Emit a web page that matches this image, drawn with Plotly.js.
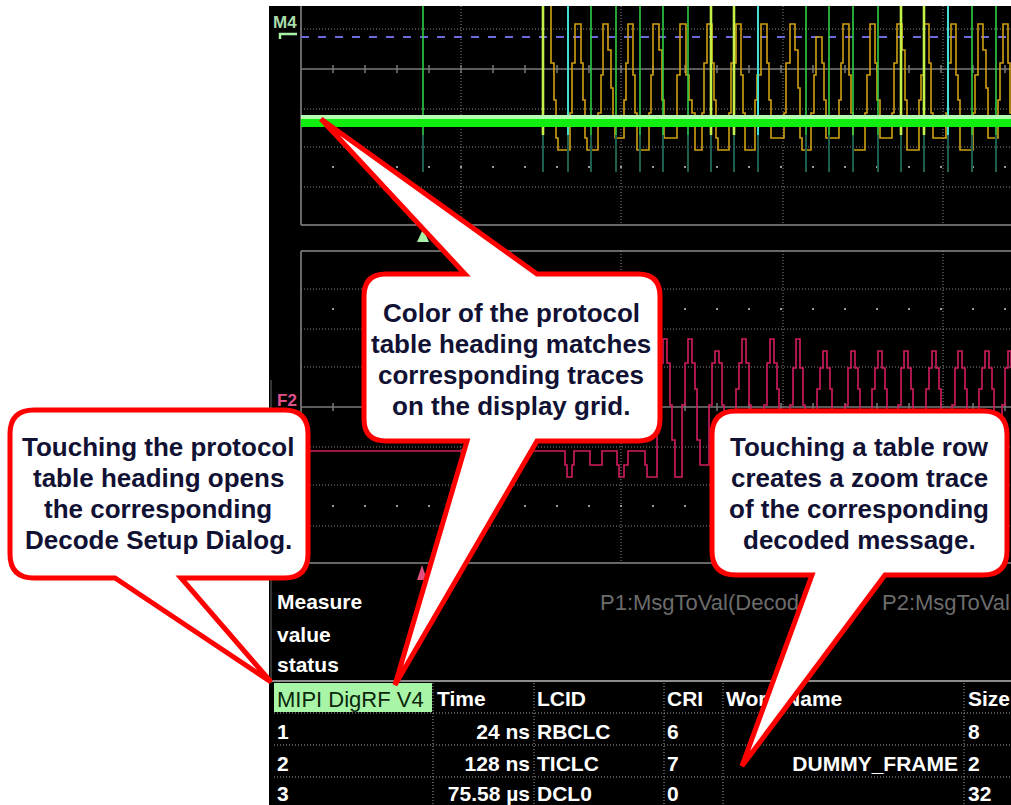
<!DOCTYPE html>
<html>
<head>
<meta charset="utf-8">
<script src="https://cdn.plot.ly/plotly-3.0.1.min.js"></script>
<style>
html,body{margin:0;padding:0;background:#ffffff;}
#chart{width:1011px;height:805px;}
</style>
</head>
<body>
<div id="chart"></div>
<script>
// ================= DATA =================
// Upper grid: time in ns (grid-relative), level in arbitrary units
const goldT = [246,250,253,255,257, 269,271,274,280,282,284,286, 297,300,302,307,310,312,314, 323,325,327,332,334,336, 348,350,352,358,361,363, 376,379,385,388,391,394, 401,403,406,411,413,415,417, 428,430,435,440,442,444, 454,456,460,466,468,470, 483,485,489,494,497,499,501, 510,513,515,521,523,525, 538,540,542,548,550,552, 564,566,569,574,576,579, 591,593,596,601,604,606, 618,620,623,628,630,632, 645,647,650,655,657,659, 672,674,677,682,685,687, 697,699,702,707,709, 712];
const goldV = [225,162,125,87,75, 112,162,201,162,125,87,75, 112,150,201,175,137,100,87, 125,162,201,150,112,75, 112,150,201,175,125,87, 150,201,150,125,112,75, 112,162,201,162,125,87,75, 112,162,201,150,112,75, 125,150,201,162,125,87, 112,162,201,175,137,87,75, 112,150,188,162,125,87, 125,162,201,150,112,75, 112,150,201,162,125,87, 112,162,201,175,125,75, 125,150,201,162,112,87, 112,162,201,150,125,75, 112,150,201,175,137,87, 125,162,201,162,112, 112];

const greenPulseT  = [122,290,315,339,362,387,505,528,552,577,671,695];
const brightPulseT = [242,410,433,600,623];
const cyanPulseT   = [267,457,647];
const pulseTopV = 225, pulseMidV = 90, pulseBotV = 53;

const bandT = [0, 710];
const bandV = [104, 104];
const bandHiV = [108, 108];

// Lower grid (F2 decode trace)
const pinkT = [9, 264,266,271,273, 289,301, 316,318,323,327, 344,346, 356,359,362,366,369,371,374, 381,384,387,391,394,396,399, 408,411,414,418,421,423,426, 435,438,441,445,448,450,453, 463,466,469,473,476,478,481, 489,492,495,499,502,504,507, 516,519,522,526,529,531,534, 544,547,550,554,557,559,562, 571,574,577,581,584,586,589, 597,600,603,607,610,612,615, 625,628,631,635,638,640,643, 651,654,657,661,664,666,669, 678,681,684,688,691,693,696, 701,704,707,710];
const pinkV = [112, 98,86,98,112, 98,112, 98,86,98,112, 98,86, 158,200,224,200,158,123,86, 158,200,224,200,174,123,98, 158,200,212,200,158,123,86, 174,200,224,200,158,123,98, 158,200,224,200,174,123,86, 158,195,224,195,158,123,98, 174,195,212,195,174,123,86, 158,195,212,195,174,123,98, 174,195,212,195,174,123,86, 158,195,212,195,174,123,98, 174,195,212,195,174,123,86, 158,195,212,195,174,123,98, 174,195,212,195,174,123,86, 158,195,212,195];

// Channel labels
const upperLabel = "M4";
const lowerLabel = "F2";

// Measurement area
const measureLabels = ["Measure", "value", "status"];
const paramLabels = ["P1:MsgToVal(Decode1)", "P2:MsgToVal(Decode1)"];

// Protocol table
const tableHeaders = ["MIPI DigRF V4", "Time", "LCID", "CRI", "Word Name", "Size"];
const rowIndex = ["1", "2", "3"];
const rowTime = ["24 ns", "128 ns", "75.58 µs"];
const rowLCID = ["RBCLC", "TICLC", "DCL0"];
const rowCRI = ["6", "7", "0"];
const rowWordName = ["", "DUMMY_FRAME", ""];
const rowSize = ["8", "2", "32"];

// Callout texts
const callout1Lines = ["Touching the protocol", "table heading opens", "the corresponding", "Decode Setup Dialog."];
const callout2Lines = ["Color of the protocol", "table heading matches", "corresponding traces", "on the display grid."];
const callout3Lines = ["Touching a table row", "creates a zoom trace", "of the corresponding", "decoded message."];

// ================= LAYOUT / STYLE =================
const FONT = "Liberation Sans, Arial, sans-serif";
const W = 1011, H = 805;
const GRIDC = "#8a8a8a";

function vSeg(ts, top, bot) {
  const x = [], y = [];
  ts.forEach(t => { x.push(t, t, null); y.push(top, bot, null); });
  return {x, y};
}

const traces = [];

// ---- text traces in pixel frame (xy) ----
function textTrace(xs, ys, texts, pos, size, color, weight) {
  return {type:'scatter', mode:'text', x:xs, y:ys, text:texts, textposition:pos,
    textfont:{family:FONT, size:size, color:color, weight:weight},
    xaxis:'x', yaxis:'y', hoverinfo:'skip', cliponaxis:false, showlegend:false};
}
const rowY = [734, 766, 796];
const headY = 701;
const colX = [277, 437, 537, 667, 726, 968];

traces.push(textTrace([273], [24], [upperLabel], 'middle right', 17, '#a9dcaa', 'bold'));
traces.push(textTrace([277], [402], [lowerLabel], 'middle right', 17, '#e0508a', 'bold'));
traces.push(textTrace([277,277,277], [604,637,667], measureLabels, 'middle right', 21, '#ffffff', 'bold'));
traces.push(textTrace([600,882], [604,604], paramLabels, 'middle right', 22, '#6c6c6c', 'normal'));
traces.push(textTrace([colX[0]], [headY], [tableHeaders[0]], 'middle right', 22, '#0b260b', 'normal'));
traces.push(textTrace(colX.slice(1), colX.slice(1).map(()=>headY), tableHeaders.slice(1), 'middle right', 21, '#ffffff', 'bold'));
traces.push(textTrace(rowY.map(()=>colX[0]), rowY, rowIndex, 'middle right', 21, '#ffffff', 'bold'));
traces.push(textTrace(rowY.map(()=>530), rowY, rowTime, 'middle left', 21, '#ffffff', 'bold'));
traces.push(textTrace(rowY.map(()=>colX[2]), rowY, rowLCID, 'middle right', 21, '#ffffff', 'bold'));
traces.push(textTrace(rowY.map(()=>colX[3]), rowY, rowCRI, 'middle right', 21, '#ffffff', 'bold'));
traces.push(textTrace(rowY.map(()=>958), rowY, rowWordName, 'middle left', 21, '#ffffff', 'bold'));
traces.push(textTrace(rowY.map(()=>colX[5]), rowY, rowSize, 'middle right', 21, '#ffffff', 'bold'));

// ---- upper grid signals (x2,y2) ----
traces.push({type:'scatter', mode:'lines', x:goldT, y:goldV, line:{color:'#d0a012', width:1.6, shape:'hv'},
  xaxis:'x2', yaxis:'y2', hoverinfo:'skip', showlegend:false});
const allPulses = greenPulseT.concat(brightPulseT, cyanPulseT);
const teal = vSeg(allPulses, pulseMidV, pulseBotV);
traces.push({type:'scatter', mode:'lines', x:teal.x, y:teal.y, line:{color:'#1d5e4e', width:2},
  xaxis:'x2', yaxis:'y2', hoverinfo:'skip', showlegend:false});
const gp = vSeg(greenPulseT, pulseTopV, pulseMidV);
traces.push({type:'scatter', mode:'lines', x:gp.x, y:gp.y, line:{color:'#2fd045', width:1.6},
  xaxis:'x2', yaxis:'y2', hoverinfo:'skip', showlegend:false});
const cp = vSeg(cyanPulseT, pulseTopV, pulseMidV);
traces.push({type:'scatter', mode:'lines', x:cp.x, y:cp.y, line:{color:'#3fe0d2', width:2},
  xaxis:'x2', yaxis:'y2', hoverinfo:'skip', showlegend:false});
const bp = vSeg(brightPulseT, pulseTopV, pulseMidV);
traces.push({type:'scatter', mode:'lines', x:bp.x, y:bp.y, line:{color:'#c4f048', width:2.6},
  xaxis:'x2', yaxis:'y2', hoverinfo:'skip', showlegend:false});
traces.push({type:'scatter', mode:'lines', x:bandT, y:bandV, line:{color:'#10ee10', width:12},
  xaxis:'x2', yaxis:'y2', hoverinfo:'skip', showlegend:false});
traces.push({type:'scatter', mode:'lines', x:bandT, y:bandHiV, line:{color:'#b4ffb4', width:4},
  xaxis:'x2', yaxis:'y2', hoverinfo:'skip', showlegend:false});

// ---- lower grid signal (x3,y3) ----
traces.push({type:'scatter', mode:'lines', x:pinkT, y:pinkV, line:{color:'#d21c60', width:1.6, shape:'hv'},
  xaxis:'x3', yaxis:'y3', hoverinfo:'skip', showlegend:false});

// ================= SHAPES =================
const shapes = [];
function ln(x0,y0,x1,y1,color,width,dash,layer){
  shapes.push({type:'line', xref:'x', yref:'y', x0, y0, x1, y1, layer: layer||'below',
    line:{color, width, dash: dash||'solid'}});
}
function rect(x0,y0,x1,y1,fill){
  shapes.push({type:'rect', xref:'x', yref:'y', x0, y0, x1, y1, layer:'below', fillcolor:fill, line:{width:0}});
}
function path(p, fill, color, width, layer){
  shapes.push({type:'path', xref:'x', yref:'y', path:p, layer:layer||'below', fillcolor:fill,
    line:{color:color||'rgba(0,0,0,0)', width:width||0}});
}
function ticks(y, x0, x1, step, half){
  let s=''; for(let x=x0; x<=x1; x+=step){ s += `M${x},${y-half} L${x},${y+half} `; } return s;
}

// screen background
rect(269, 6, W, H, '#000000');
ln(271, 380, 271, 683, '#6a6a6a', 1);

// upper grid
ln(301, 6, 301, 225, GRIDC, 1.5);
ln(301, 225, W, 225, GRIDC, 1.5);
[29,109,147,187].forEach(y => ln(301, y, W, y, GRIDC, 1, '1px,2px'));
[461,621,783,943].forEach(x => ln(x, 6, x, 225, GRIDC, 1, '1px,2px'));
ln(301, 69, W, 69, '#7a7a7a', 1.5);
path(ticks(69, 333, W, 32, 4), 'rgba(0,0,0,0)', '#7a7a7a', 1.5);
ln(332, 167, W, 167, '#9a9a9a', 2, '2px,30px');
ln(301, 37, W, 37, '#6b6bde', 2, '8px,9px');
path('M280,39 L280,34 L297,34', 'rgba(0,0,0,0)', '#a8f0a8', 2.5);

// lower grid
ln(301, 251, W, 251, GRIDC, 1.5);
ln(301, 563, W, 563, GRIDC, 1.5);
ln(301, 251, 301, 563, GRIDC, 1.5);
[289,329,367,447,485,526].forEach(y => ln(301, y, W, y, GRIDC, 1, '1px,2px'));
[461,621,783,943].forEach(x => ln(x, 251, x, 563, GRIDC, 1, '1px,2px'));
ln(301, 407, W, 407, '#7a7a7a', 1.5);
path(ticks(407, 333, W, 32, 4), 'rgba(0,0,0,0)', '#7a7a7a', 1.5);
ln(332, 309, W, 309, '#9a9a9a', 2, '2px,30px');
ln(332, 506, W, 506, '#9a9a9a', 2, '2px,30px');

// trigger markers
path('M417,242 L423,229 L429,242 Z', '#a8f0a8');
path('M417,580 L422,565 L427,580 Z', '#e0507f');

// table
rect(274, 683, 432, 712, '#a8f5a8');
ln(272, 681, W, 681, '#8c8c8c', 2);
[713,745,777].forEach(y => ln(274, y, W, y, '#a0a0a0', 1, '1px,2px'));
[433,534,664,723,964].forEach(x => ln(x, 683, x, H, '#a0a0a0', 1, '1px,2px'));

// callouts
function callout(x0,y0,x1,y1,r,tops,bots){
  let p = `M${x0+r},${y0} `;
  tops.forEach(t => { p += `L${t.a},${y0} L${t.tx},${t.ty} L${t.b},${y0} `; });
  p += `L${x1-r},${y0} Q${x1},${y0} ${x1},${y0+r} L${x1},${y1-r} Q${x1},${y1} ${x1-r},${y1} `;
  bots.forEach(t => { p += `L${t.b},${y1} L${t.tx},${t.ty} L${t.a},${y1} `; });
  p += `L${x0+r},${y1} Q${x0},${y1} ${x0},${y1-r} L${x0},${y0+r} Q${x0},${y0} ${x0+r},${y0} Z`;
  path(p, '#ffffff', '#ff0000', 5, 'above');
}
callout(10, 410, 308, 578, 24, [], [{a:115, b:181, tx:271, ty:682}]);
callout(364, 274, 660, 441, 22, [{a:465, b:537, tx:321, ty:119}], [{a:467, b:537, tx:395, ty:685}]);
callout(712, 411, 1007, 575, 24, [], [{a:812, b:885, tx:742, ty:766}]);

// ================= ANNOTATIONS (callout texts) =================
const annotations = [];
function calloutText(lines, cx, y0, dy){
  lines.forEach((t, i) => annotations.push({xref:'x', yref:'y', x:cx, y:y0 + i*dy, text:t, showarrow:false,
    xanchor:'center', yanchor:'middle', font:{family:FONT, size:26, color:'#111133', weight:'bold'}}));
}
calloutText(callout1Lines, 158, 447, 31);
calloutText(callout2Lines, 511, 313, 31);
calloutText(callout3Lines, 859, 447, 31);

const layout = {
  width: W, height: H,
  margin: {l:0, r:0, t:0, b:0, pad:0},
  paper_bgcolor: '#ffffff',
  plot_bgcolor: 'rgba(0,0,0,0)',
  showlegend: false,
  xaxis:  {domain:[0,1], range:[0,W], visible:false, fixedrange:true},
  yaxis:  {domain:[0,1], range:[H,0], visible:false, fixedrange:true},
  xaxis2: {domain:[301/W, 1], range:[0,710], visible:false, anchor:'y2', fixedrange:true},
  yaxis2: {domain:[1-225/H, 1-6/H], range:[0,219], visible:false, anchor:'x2', fixedrange:true},
  xaxis3: {domain:[301/W, 1], range:[0,710], visible:false, anchor:'y3', fixedrange:true},
  yaxis3: {domain:[1-563/H, 1-251/H], range:[0,312], visible:false, anchor:'x3', fixedrange:true},
  shapes: shapes,
  annotations: annotations
};

Plotly.newPlot('chart', traces, layout, {staticPlot:true, displayModeBar:false});
</script>
</body>
</html>
